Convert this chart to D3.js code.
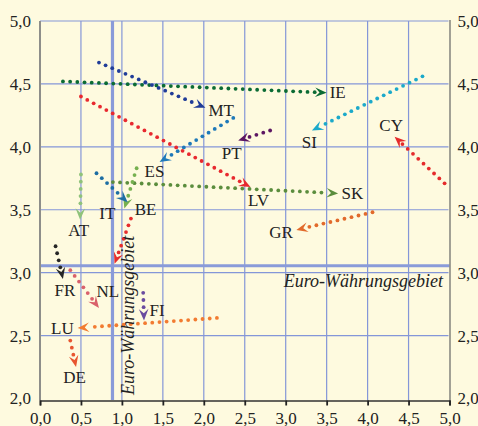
<!DOCTYPE html>
<html>
<head>
<meta charset="utf-8">
<script src="https://cdn.jsdelivr.net/npm/d3@7"></script>
<style>
  html, body { margin: 0; padding: 0; background: #fefadf; }
  svg { display: block; }
  text { font-family: "Liberation Serif", "Times New Roman", serif; fill: #222; }
</style>
</head>
<body>
<svg id="chart" width="478" height="426"></svg>
<script>
// Country codes and the two positions of each country (start -> end of arrow)
const countries = ["IE", "MT", "LV", "ES", "SK", "IT", "BE", "AT", "SI", "PT", "CY", "GR", "FR", "NL", "FI", "LU", "DE", "EA"];
const startX = [0.28, 0.72, 0.50, 2.36, 0.89, 1.18, 0.69, 0.50, 4.67, 2.81, 4.94, 4.06, 0.19, 0.37, 1.26, 2.16, 0.37, 1.11];
const startY = [4.52, 4.67, 4.40, 4.23, 3.72, 3.83, 3.79, 3.78, 4.56, 4.13, 3.71, 3.48, 3.21, 3.02, 2.84, 2.64, 2.46, 3.43];
const endX   = [3.50, 2.02, 2.57, 1.46, 3.64, 1.03, 1.07, 0.49, 3.32, 2.42, 4.33, 3.13, 0.28, 0.72, 1.27, 0.46, 0.44, 0.91];
const endY   = [4.43, 4.31, 3.68, 3.88, 3.63, 3.51, 3.56, 3.42, 4.13, 4.05, 4.08, 3.34, 2.95, 2.72, 2.62, 2.56, 2.25, 3.07];

// Euro area reference lines
const euroX = 0.885;
const euroY = 3.055;
const euroLabel = "Euro-Währungsgebiet";

// Axis ticks
const xTicks = [0, 0.5, 1, 1.5, 2, 2.5, 3, 3.5, 4, 4.5, 5];
const yTicks = [2, 2.5, 3, 3.5, 4, 4.5, 5];

// Arrow colours per country
const colours = {
  IE: "#0b6b34", MT: "#203c98", LV: "#e8292f", ES: "#1e79b9", SK: "#5b8d3d",
  IT: "#76b04f", BE: "#1c6da3", AT: "#8fc27a", SI: "#1ba9ca", PT: "#5c1662",
  CY: "#e52b2b", GR: "#e26a2b", FR: "#262626", NL: "#d9616b", FI: "#6a4b9f",
  LU: "#f27b31", DE: "#e8552f", EA: "#e62d2d"
};

// Label placement relative to the arrow tip: [dx, dy(baseline), anchor]
const labelPos = {
  IE: [3, 5.5, "start"], MT: [3, 8, "start"], LV: [-2.5, 18.5, "start"],
  ES: [-15, 15, "start"], SK: [3.5, 5.5, "start"], IT: [-9, 10.5, "end"],
  BE: [7, 12.5, "start"], AT: [-1.5, 16.5, "middle"], SI: [-2.5, 18, "middle"],
  PT: [-16.5, 18.5, "start"], CY: [-3.5, -6, "middle"], GR: [-3.5, 8.5, "end"],
  FR: [-8.5, 17.5, "start"], NL: [-2.5, -10.5, "start"], FI: [5.5, -4, "start"],
  LU: [-4, 5.5, "end"], DE: [-1.5, 16, "middle"], EA: null
};

const svg = d3.select("#chart");
const plotLeft = 40, plotRight = 449.5, plotTop = 21, plotBottom = 398.5;

const x = d3.scaleLinear().domain([0, 5]).range([plotLeft, plotRight]);
const y = d3.scaleLinear().domain([2, 5]).range([plotBottom, plotTop]);
const fmt = d => d3.format(".1f")(d).replace(".", ",");

const gridColour = "#8496d8";

// Grid
const grid = svg.append("g");
grid.selectAll(".vg").data(xTicks.filter(t => t > 0 && t < 5)).join("line")
  .attr("x1", d => x(d)).attr("x2", d => x(d))
  .attr("y1", plotTop).attr("y2", plotBottom + 1.5)
  .attr("stroke", gridColour).attr("stroke-width", 1.2);
grid.selectAll(".hg").data(yTicks.filter(t => t > 2)).join("line")
  .attr("x1", plotLeft).attr("x2", plotRight - 1)
  .attr("y1", d => y(d)).attr("y2", d => y(d))
  .attr("stroke", gridColour).attr("stroke-width", 1.2);

// Euro area reference lines
svg.append("line")
  .attr("x1", x(euroX)).attr("x2", x(euroX)).attr("y1", plotTop).attr("y2", plotBottom + 1.5)
  .attr("stroke", "#8a9bd9").attr("stroke-width", 3.2);
svg.append("line")
  .attr("x1", plotLeft).attr("x2", plotRight).attr("y1", y(euroY)).attr("y2", y(euroY))
  .attr("stroke", "#8a9bd9").attr("stroke-width", 3.2);

// Axes frame
svg.append("line").attr("x1", plotLeft).attr("x2", plotLeft).attr("y1", plotTop).attr("y2", plotBottom + 2)
  .attr("stroke", "#8e8e8a").attr("stroke-width", 2);
svg.append("line").attr("x1", plotRight + 0.5).attr("x2", plotRight + 0.5).attr("y1", plotTop - 1).attr("y2", plotBottom + 2)
  .attr("stroke", "#7a7a76").attr("stroke-width", 1.4);

// Bottom axis
const xAxis = d3.axisBottom(x).tickValues(xTicks).tickFormat(fmt).tickSize(5).tickPadding(6);
const gx = svg.append("g").attr("transform", `translate(0,${plotBottom + 2})`).call(xAxis);
gx.select(".domain").attr("stroke", "#333").attr("stroke-width", 1.5);
gx.selectAll(".tick line").attr("stroke", "#222").attr("stroke-width", 1.8);
gx.selectAll(".tick text").attr("font-size", 17).attr("font-family", "Liberation Serif").attr("fill", "#222");

// Left and right tick labels
svg.append("g").selectAll("text").data(yTicks).join("text")
  .attr("x", 31).attr("y", d => y(d)).attr("dy", "0.35em")
  .attr("text-anchor", "end").attr("font-size", 17).text(fmt);
svg.append("g").selectAll("text").data(yTicks).join("text")
  .attr("x", 457.5).attr("y", d => y(d)).attr("dy", "0.35em")
  .attr("text-anchor", "start").attr("font-size", 17).text(fmt);

// Dotted arrows
const arrows = svg.append("g");
countries.forEach((c, i) => {
  const sx = x(startX[i]), sy = y(startY[i]);
  const ex = x(endX[i]), ey = y(endY[i]);
  const dx = ex - sx, dy = ey - sy;
  const L = Math.hypot(dx, dy);
  const ux = dx / L, uy = dy / L;
  const nx = -uy, ny = ux;
  const col = colours[c];
  const headLen = 11.5, headW = 4.8, spacing = 7.2;
  const g = arrows.append("g");
  const dots = d3.range(0, L - headLen + 1, spacing);
  g.selectAll("circle").data(dots).join("circle")
    .attr("cx", t => sx + ux * t).attr("cy", t => sy + uy * t)
    .attr("r", 1.9).attr("fill", col);
  const bx = ex - ux * headLen, by = ey - uy * headLen;
  const mx = ex - ux * headLen * 0.62, my = ey - uy * headLen * 0.62;
  g.append("path")
    .attr("d", `M${ex},${ey}L${bx + nx * headW},${by + ny * headW}L${mx},${my}L${bx - nx * headW},${by - ny * headW}Z`)
    .attr("fill", col);
  const lp = labelPos[c];
  if (lp) {
    g.append("text").attr("x", ex + lp[0]).attr("y", ey + lp[1])
      .attr("text-anchor", lp[2]).attr("font-size", 17).text(c);
  }
});

// Euro area labels
svg.append("text")
  .attr("x", 443).attr("y", y(euroY) + 21.5)
  .attr("text-anchor", "end").attr("font-size", 18).attr("font-style", "italic")
  .text(euroLabel);
svg.append("text")
  .attr("transform", `translate(${x(euroX) + 21.5},${plotBottom - 3.5}) rotate(-90)`)
  .attr("text-anchor", "start").attr("font-size", 18).attr("font-style", "italic")
  .text(euroLabel);
</script>
</body>
</html>
